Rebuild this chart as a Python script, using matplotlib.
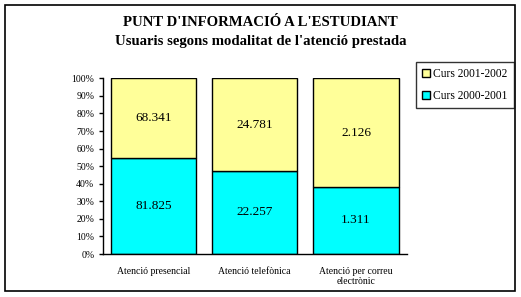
import matplotlib.pyplot as plt
from matplotlib.patches import Rectangle
from matplotlib.ticker import PercentFormatter

categories = ['Atenció presencial', 'Atenció telefònica', 'Atenció per correu\nelectrònic']
curs_2000 = [81825, 22257, 1311]
curs_2001 = [68341, 24781, 2126]
labels_2000 = ['81.825', '22.257', '1.311']
labels_2001 = ['68.341', '24.781', '2.126']
series_names = ['Curs 2001-2002', 'Curs 2000-2001']

plt.rcParams['font.family'] = ['Liberation Serif', 'DejaVu Serif']

fig = plt.figure(figsize=(5.21, 2.97), dpi=100)
W, H = 521, 297

# outer chart frame
fig.patches.append(Rectangle((5 / W, 1 - 291 / H), 510 / W, 286 / H,
                             transform=fig.transFigure, fill=False,
                             edgecolor='black', linewidth=1.2))

ax = fig.add_axes([102.7 / W, 1 - 254 / H, 304 / W, (254 - 78.3) / H])

totals = [a + b for a, b in zip(curs_2000, curs_2001)]
pct_2000 = [a / t * 100 for a, t in zip(curs_2000, totals)]
pct_2001 = [b / t * 100 for b, t in zip(curs_2001, totals)]
x = range(len(categories))

b0 = ax.bar(x, pct_2000, width=0.84, color='#00FFFF', edgecolor='black', linewidth=1)
b1 = ax.bar(x, pct_2001, width=0.84, bottom=pct_2000, color='#FFFF99',
            edgecolor='black', linewidth=1)

for i in x:
    ax.text(i, pct_2000[i] / 2, labels_2000[i], ha='center', va='center', fontsize=9.5)
    ax.text(i, pct_2000[i] + pct_2001[i] / 2, labels_2001[i], ha='center', va='center', fontsize=9.5)

ax.set_xlim(-0.5, 2.5)
ax.set_ylim(0, 100)
ax.set_yticks(range(0, 101, 10))
ax.yaxis.set_major_formatter(PercentFormatter(decimals=0))
ax.set_xticks(list(x))
ax.set_xticklabels(categories, fontsize=7)
ax.tick_params(axis='y', labelsize=7, length=3, width=1, direction='out', pad=3)
ax.tick_params(axis='x', length=0, pad=9)
ax.spines['top'].set_visible(False)
ax.spines['right'].set_visible(False)
ax.spines['left'].set_linewidth(1)
ax.spines['bottom'].set_linewidth(1)

fig.text(0.5, 1 - 22 / H, "PUNT D'INFORMACIÓ A L'ESTUDIANT", ha='center', va='center',
         fontsize=10.6, fontweight='bold')
fig.text(0.5, 1 - 41 / H, "Usuaris segons modalitat de l'atenció prestada", ha='center',
         va='center', fontsize=10.6, fontweight='bold')

leg = fig.legend([b1, b0], series_names, loc='upper left',
                 bbox_to_anchor=(416 / W, 1 - 62 / H), fontsize=8.3, frameon=True,
                 fancybox=False, edgecolor='black', handlelength=0.7, handleheight=0.7,
                 handletextpad=0.25, borderpad=0.55, borderaxespad=0,
                 labelspacing=0.85)
leg.get_frame().set_linewidth(1)

fig.savefig('out.png', dpi=100)
